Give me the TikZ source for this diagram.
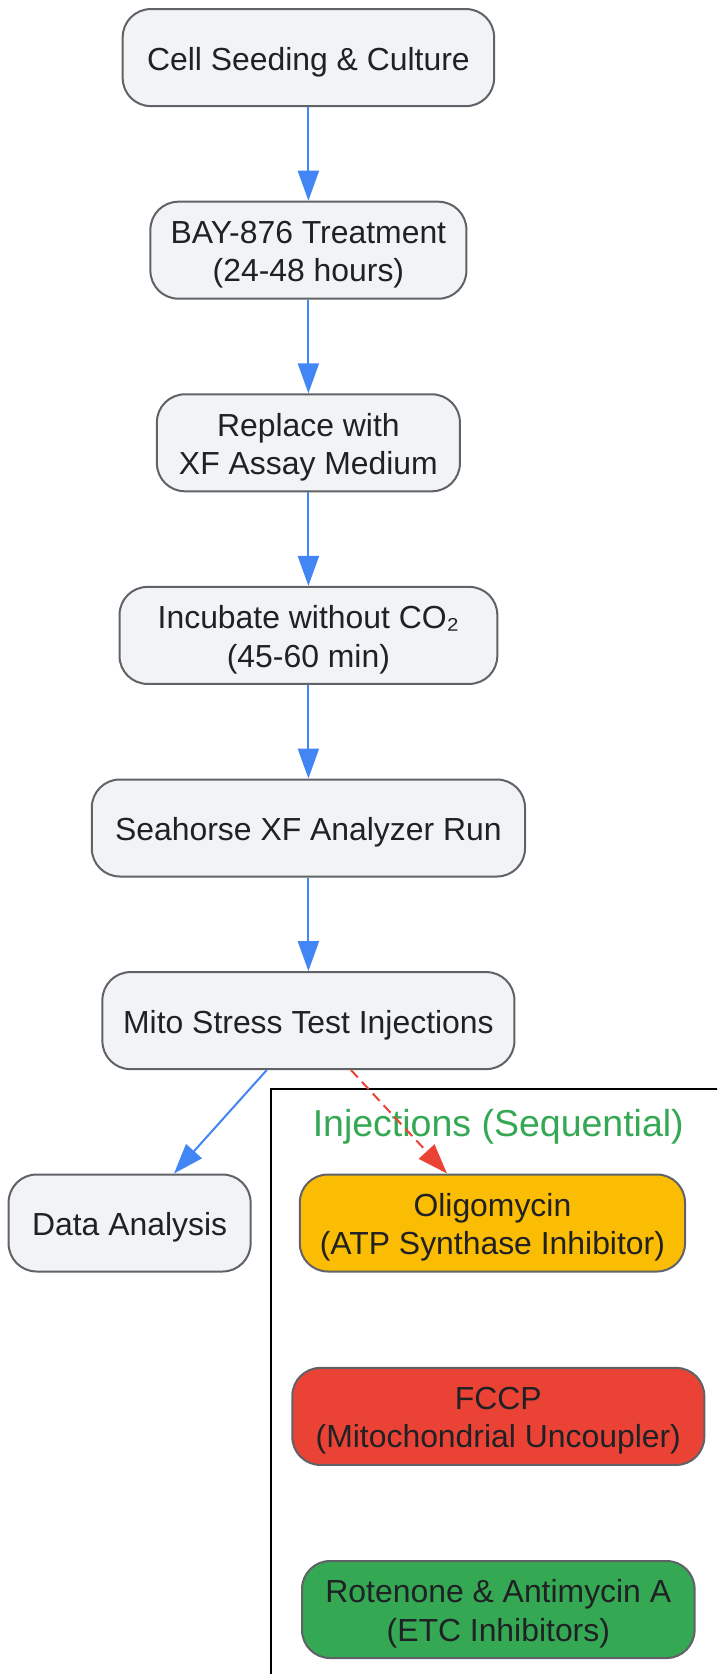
\documentclass[tikz,border=0pt]{standalone}
\usepackage{fontspec}
\setmainfont{Liberation Sans}
\usetikzlibrary{arrows.meta,calc}
\definecolor{nodefill}{HTML}{F1F3F4}
\definecolor{nodeline}{HTML}{5F6368}
\definecolor{txt}{HTML}{202124}
\definecolor{gblue}{HTML}{4285F4}
\definecolor{gred}{HTML}{EA4335}
\definecolor{gyellow}{HTML}{FBBC04}
\definecolor{ggreen}{HTML}{34A853}
\tikzset{
  boxtext/.style={inner sep=0pt, align=center, text=txt, yshift=-2.1pt,
    font=\fontsize{15.95pt}{19.2pt}\selectfont},
  stepbox/.style={draw=nodeline, fill=nodefill, line width=1pt, rounded corners=14pt,
    minimum height=48.5pt, inner sep=0pt, label={[boxtext]center:#1}},
  flow/.style={draw=gblue, line width=1pt, -{Triangle[length=15pt,width=10.5pt]}, fill=gblue},
  dflow/.style={draw=gred, line width=1pt, dash pattern=on 5pt off 3pt,
    -{Triangle[length=15pt,width=10.5pt,fill=gred]}},
}
\begin{document}
\begin{tikzpicture}[x=0.5pt,y=-0.5pt]
\useasboundingbox (0,0) rectangle (717,1674);
\clip (0,0) rectangle (717,1674);
\fill[white] (0,0) rectangle (717,1674);
% cluster
\draw[black, line width=1.25pt] (271,1089) rectangle (740,1700);
\node[text=ggreen, font=\fontsize{18.75pt}{22pt}\selectfont] (title) at (498.3,1126.7) {Injections (Sequential)};
% nodes
\node[stepbox={Cell Seeding \& Culture}, minimum width=185.7pt] (c1) at (308.4,57.6) {};
\node[stepbox={BAY-876 Treatment\\(24-48 hours)}, minimum width=158pt] (c2) at (308.4,250.2) {};
\node[stepbox={Replace with\\XF Assay Medium}, minimum width=151.5pt] (c3) at (308.4,442.8) {};
\node[stepbox={Incubate without CO₂\\(45-60 min)}, minimum width=188.9pt] (c4) at (308.4,635.4) {};
\node[stepbox={Seahorse XF Analyzer Run}, minimum width=216.6pt] (c5) at (308.4,828) {};
\node[stepbox={Mito Stress Test Injections}, minimum width=206pt] (c6) at (308.4,1020.6) {};
\node[stepbox={Data Analysis}, minimum width=121pt] (da) at (129.6,1223) {};
\node[stepbox={Oligomycin\\(ATP Synthase Inhibitor)}, fill=gyellow, minimum width=192.6pt] (oli) at (492.4,1223) {};
\node[stepbox={FCCP\\(Mitochondrial Uncoupler)}, fill=gred, minimum width=206pt] (fccp) at (498.3,1416.4) {};
\node[stepbox={Rotenone \& Antimycin A\\(ETC Inhibitors)}, fill=ggreen, minimum width=196.3pt] (rot) at (498.3,1609.5) {};
% edges
\draw[flow] (c1) -- (c2);
\draw[flow] (c2) -- (c3);
\draw[flow] (c3) -- (c4);
\draw[flow] (c4) -- (c5);
\draw[flow] (c5) -- (c6);
\draw[flow] ($(c6.south)+(-41.7,0)$) -- ($(da.north)+(44.4,0)$);
\draw[dflow] ($(c6.south)+(42.6,0)$) -- ($(oli.north)+(-45.4,0)$);
\end{tikzpicture}
\end{document}
